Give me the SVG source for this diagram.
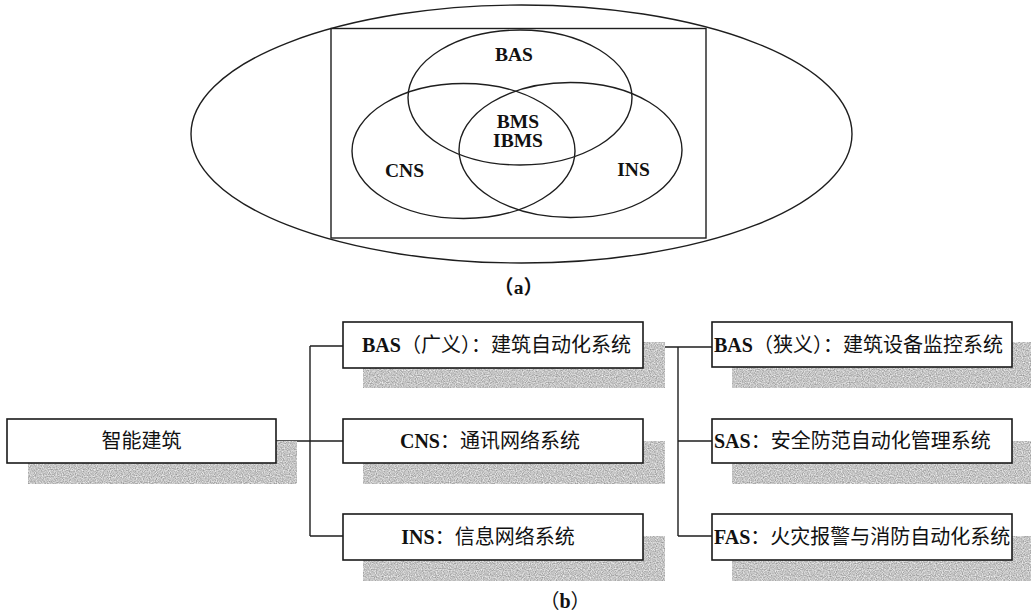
<svg xmlns="http://www.w3.org/2000/svg" width="1031" height="614" viewBox="0 0 1031 614">
<defs>
<filter id="grain" x="0" y="0" width="100%" height="100%" color-interpolation-filters="sRGB">
<feTurbulence type="fractalNoise" baseFrequency="0.85" numOctaves="1" seed="7" result="n"/>
<feColorMatrix in="n" type="matrix" values="0.6 0 0 0 0.47  0.6 0 0 0 0.47  0.6 0 0 0 0.47  0 0 0 0 1" result="g"/>
<feComposite in="g" in2="SourceGraphic" operator="in"/>
</filter>
</defs>
<style>
.ln{fill:none;stroke:#1e1e1e;stroke-width:1.4}
.box{fill:#ffffff;stroke:#1a1a1a;stroke-width:1.6}
.sh{fill:#c4c4c4;filter:url(#grain)}
.t{font-family:"Liberation Serif","Noto Sans CJK SC",serif;font-size:20px;fill:#111}
.v{font-family:"Liberation Serif","Noto Sans CJK SC",serif;font-size:19.5px;font-weight:bold;fill:#111}
.lat{font-weight:bold}
</style>
<rect width="1031" height="614" fill="#ffffff"/>
<g id="venn">
<ellipse class="ln" cx="521.5" cy="134" rx="330.5" ry="129"/>
<rect class="ln" x="331" y="28.5" width="375" height="209.5"/>
<ellipse class="ln" cx="520" cy="97.5" rx="112" ry="67.5"/>
<ellipse class="ln" cx="463.5" cy="151" rx="111.5" ry="67.5"/>
<ellipse class="ln" cx="570.5" cy="150" rx="111.5" ry="67.5"/>
<text class="v" x="514" y="61" text-anchor="middle">BAS</text>
<text class="v" x="518" y="128" text-anchor="middle">BMS</text>
<text class="v" x="518" y="147" text-anchor="middle">IBMS</text>
<text class="v" x="404.5" y="177" text-anchor="middle">CNS</text>
<text class="v" x="633.5" y="176" text-anchor="middle">INS</text>
<text class="v" x="518.5" y="294" text-anchor="middle" font-size="18" font-weight="normal">（<tspan font-weight="bold">a</tspan>）</text>
</g>
<g id="connectors">
<path class="ln" d="M276 441H310M310 346V536M310 346H343M310 441H343M310 536H343"/>
<path class="ln" d="M643 347H678M678 347V536M678 347H712M678 441H712M678 536H712"/>
</g>
<g id="n-root">
<rect class="sh" x="28" y="441" width="269" height="43"/>
<rect class="box" x="7" y="419" width="269" height="44"/>
<text class="t" x="141.5" y="448" text-anchor="middle">智能建筑</text>
</g>
<g id="n-bas-wide">
<rect class="sh" x="363" y="342" width="302" height="46"/>
<rect class="box" x="343" y="322" width="300" height="46"/>
<text class="t" x="362" y="352"><tspan class="lat">BAS</tspan>（广义）：建筑自动化系统</text>
</g>
<g id="n-cns">
<rect class="sh" x="363" y="441" width="302" height="43"/>
<rect class="box" x="343" y="419" width="300" height="44"/>
<text class="t" x="490" y="448" text-anchor="middle"><tspan class="lat">CNS</tspan>：通讯网络系统</text>
</g>
<g id="n-ins">
<rect class="sh" x="363" y="536" width="302" height="45"/>
<rect class="box" x="343" y="514" width="300" height="46"/>
<text class="t" x="488" y="544" text-anchor="middle"><tspan class="lat">INS</tspan>：信息网络系统</text>
</g>
<g id="n-bas-narrow">
<rect class="sh" x="732" y="342" width="310" height="46"/>
<rect class="box" x="712" y="322" width="300" height="45"/>
<text class="t" x="714" y="352"><tspan class="lat">BAS</tspan>（狭义）：建筑设备监控系统</text>
</g>
<g id="n-sas">
<rect class="sh" x="732" y="441" width="310" height="43"/>
<rect class="box" x="712" y="419" width="300" height="44"/>
<text class="t" x="714" y="448"><tspan class="lat">SAS</tspan>：安全防范自动化管理系统</text>
</g>
<g id="n-fas">
<rect class="sh" x="732" y="536" width="310" height="45"/>
<rect class="box" x="712" y="514" width="300" height="46"/>
<text class="t" x="714" y="544"><tspan class="lat">FAS</tspan>：火灾报警与消防自动化系统</text>
</g>
<text class="t" x="565" y="608" text-anchor="middle" font-size="18">（<tspan class="lat">b</tspan>）</text>
</svg>
